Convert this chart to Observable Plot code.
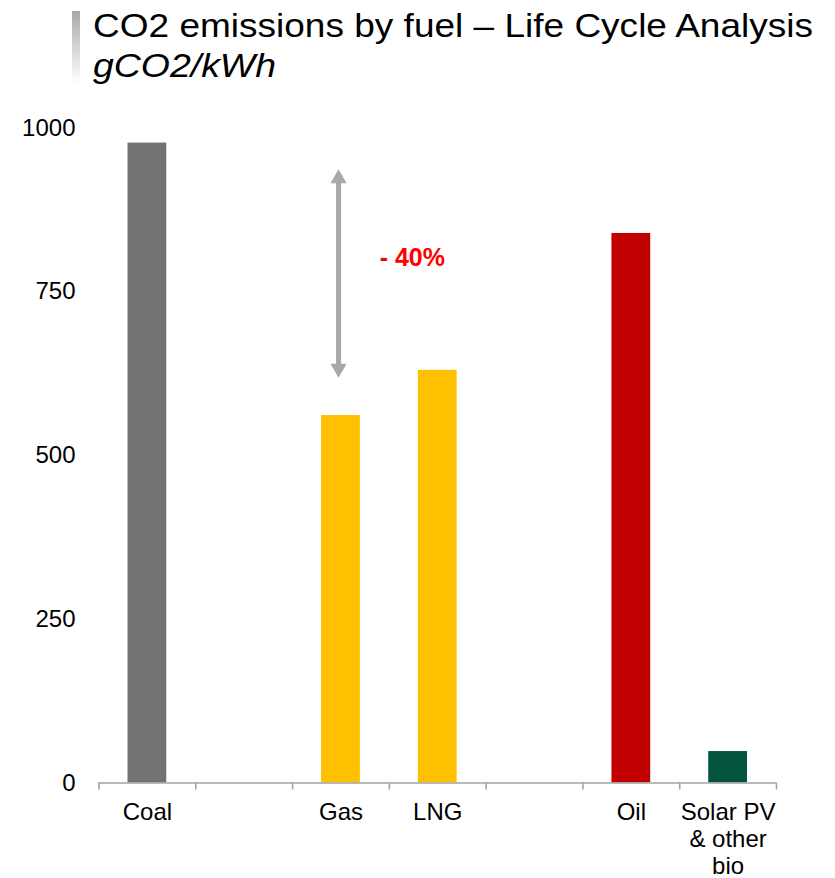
<!DOCTYPE html>
<html>
<head>
<meta charset="utf-8">
<script src="https://cdn.jsdelivr.net/npm/d3@7"></script>
<script src="https://cdn.jsdelivr.net/npm/@observablehq/plot@0.6"></script>
<style>
  html, body { margin: 0; padding: 0; background: #fff; overflow: hidden; }
  #wrap { position: relative; width: 835px; height: 878px; font-family: "Liberation Sans", Arial, sans-serif; }
  #chart { position: absolute; left: 0; top: 0; }
  #titlebar { position: absolute; left: 72px; top: 11px; width: 8px; height: 72px; background: linear-gradient(#a9a9a9, #ffffff); }
  #title { position: absolute; left: 0; top: 0; }
</style>
</head>
<body>
<div id="wrap">
  <div id="chart"></div>
  <div id="titlebar"></div>
  <svg id="title" width="835" height="95" font-family="Liberation Sans, Arial, sans-serif">
    <text x="93" y="37" font-size="34" fill="#000" textLength="720" lengthAdjust="spacingAndGlyphs">CO2 emissions by fuel – Life Cycle Analysis</text>
    <text x="93" y="77" font-size="34" font-style="italic" fill="#000" textLength="183" lengthAdjust="spacingAndGlyphs">gCO2/kWh</text>
  </svg>
</div>
<script>
// ---- data ----
const categories = ["Coal", "", "Gas", "LNG", "", "Oil", "Solar PV\n& other\nbio"];
const values = [977, null, 561, 630, null, 839, 48];
const barColors = ["#737373", null, "#FFC000", "#FFC000", null, "#C00000", "#02543F"];
const yTicks = [0, 250, 500, 750, 1000];
// annotation: double arrow between coal level and gas level, with label
const arrowX = [2.475];
const arrowEnds = [937, 619];
const noteText = ["- 40%"];
const notePos = [3.237, 801];

const rows = categories.map((c, i) => ({i, label: c, value: values[i], color: barColors[i]}));
const bars = rows.filter(d => d.value != null);
const boundaries = d3.range(categories.length + 1);

const axisGray = "#a3a3a3";
const arrowGray = "#a9a9a9";

const chart = Plot.plot({
  width: 835,
  height: 878,
  marginTop: 127.5,
  marginBottom: 95.5,
  marginLeft: 98.5,
  marginRight: 59,
  style: {fontFamily: "Liberation Sans, Arial, sans-serif", background: "transparent", color: "#000", overflow: "visible"},
  x: {type: "linear", domain: [0, categories.length]},
  y: {domain: [0, 1000]},
  color: {type: "identity"},
  marks: [
    Plot.axisY(yTicks, {label: null, tickSize: 0, tickPadding: 23.5, fontSize: 24, tickFormat: d => String(d), fill: "#000"}),
    Plot.rectY(bars, {x1: "i", x2: d => d.i + 1, y: "value", fill: "color", insetLeft: 29, insetRight: 29}),
    Plot.ruleY([0], {stroke: axisGray, strokeWidth: 1.6}),
    Plot.axisX(boundaries, {label: null, tickSize: 7, tickFormat: () => "", stroke: axisGray, strokeWidth: 1.6}),
    Plot.text(rows, {x: d => d.i + 0.5, y: 0, text: "label", lineAnchor: "top", dy: 18, fontSize: 24, lineHeight: 1.12, fill: "#000"}),
    Plot.ruleX(arrowX, {x: d => d, y1: arrowEnds[0], y2: arrowEnds[1], insetTop: 10, insetBottom: 10, stroke: arrowGray, strokeWidth: 5}),
    Plot.dot(arrowX, {x: d => d, y: arrowEnds[0], symbol: "triangle", r: 6, fill: arrowGray, stroke: "none", dy: 9.2}),
    Plot.dot(arrowX, {x: d => d, y: arrowEnds[1], symbol: "triangle", r: 6, fill: arrowGray, stroke: "none", rotate: 180, dy: -9.2}),
    Plot.text(noteText, {x: notePos[0], y: notePos[1], text: d => d, fill: "#FF0000", fontWeight: "bold", fontSize: 25})
  ]
});
document.getElementById("chart").appendChild(chart);
</script>
</body>
</html>
